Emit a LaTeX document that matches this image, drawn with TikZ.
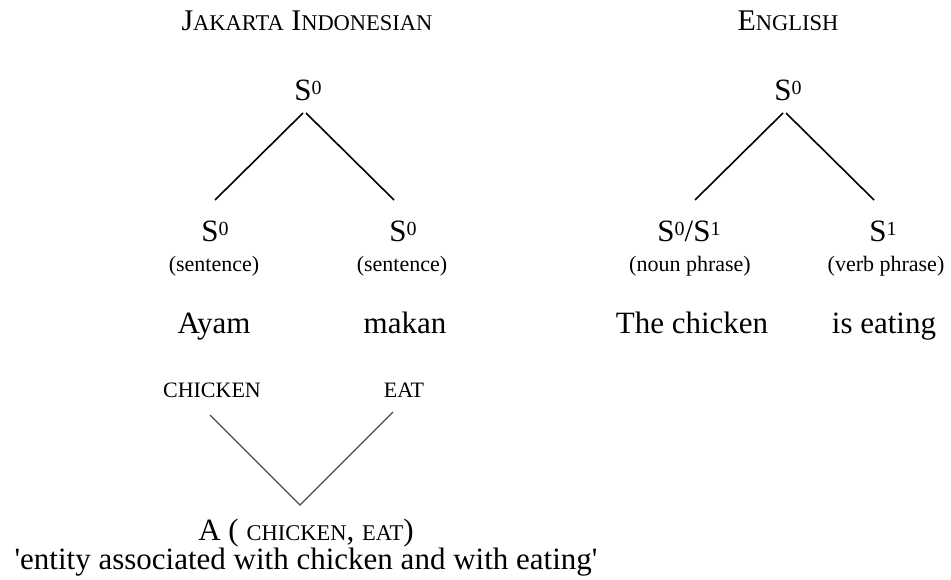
\documentclass[tikz,border=0pt]{standalone}
\usepackage{fontspec}
\setmainfont{Liberation Serif}
\usetikzlibrary{positioning}

\newcommand{\smc}[1]{{\fontsize{22.5}{22.5}\selectfont #1}}
\newcommand{\catS}[1]{S\raisebox{6.5pt}{\fontsize{20}{20}\selectfont #1}}

\tikzset{
  word/.style={font=\fontsize{31}{31}\selectfont,anchor=base,inner sep=0pt},
  gloss/.style={font=\fontsize{22}{22}\selectfont,anchor=base,inner sep=0pt},
  head/.style={font=\fontsize{30}{30}\selectfont,anchor=base,inner sep=0pt},
  branch/.style={line width=1.6pt},
  link/.style={line width=1.2pt,draw=black!70}
}

\begin{document}
\begin{tikzpicture}[x=1pt,y=-1pt]
  \useasboundingbox (0,0) rectangle (951,580);

  % Jakarta Indonesian
  \node[head] (jkthead) at (307,31) {J\smc{AKARTA} I\smc{NDONESIAN}};
  \node[word] (lroot) at (308,101) {\catS{0}};
  \node[word] (lleft) at (215,242) {\catS{0}};
  \node[word] (lright) at (403,242) {\catS{0}};
  \node[gloss] (lleftgl) at (214,272) {(sentence)};
  \node[gloss] (lrightgl) at (402,272) {(sentence)};
  \node[word] (ayam) at (214,333) {Ayam};
  \node[word] (makan) at (405,333) {makan};

  \draw[branch] ([xshift=-5pt,yshift=-12pt]lroot.base) -- ([xshift=0pt,yshift=42pt]lleft.base);
  \draw[branch] ([xshift=-2pt,yshift=-12pt]lroot.base) -- ([xshift=-9pt,yshift=42pt]lright.base);

  % meaning of the compound
  \node[gloss] (chicken) at (212,397) {CHICKEN};
  \node[gloss] (eat) at (404,397) {EAT};
  \node[word] (assoc) at (306,540) {A ( \smc{CHICKEN}, \smc{EAT})};
  \node[word] (assocgl) at (306,569) {\textquotesingle entity associated with chicken and with eating\textquotesingle};

  \draw[link] ([xshift=-2pt,yshift=-18pt]chicken.base) -- ([xshift=-6pt,yshift=35pt]assoc.base)
    -- ([xshift=-11pt,yshift=-15pt]eat.base);

  % English
  \node[head] (enghead) at (788,31) {E\smc{NGLISH}};
  \node[word] (eroot) at (788,101) {\catS{0}};
  \node[word] (eleft) at (689,242) {\catS{0}/\catS{1}};
  \node[word] (eright) at (883,242) {\catS{1}};
  \node[gloss] (eleftgl) at (690,272) {(noun phrase)};
  \node[gloss] (erightgl) at (886,272) {(verb phrase)};
  \node[word] (chick) at (692,333) {The chicken};
  \node[word] (eating) at (884,333) {is eating};

  \draw[branch] ([xshift=-5pt,yshift=-12pt]eroot.base) -- ([xshift=6pt,yshift=42pt]eleft.base);
  \draw[branch] ([xshift=-2pt,yshift=-12pt]eroot.base) -- ([xshift=-9pt,yshift=42pt]eright.base);

\end{tikzpicture}
\end{document}
